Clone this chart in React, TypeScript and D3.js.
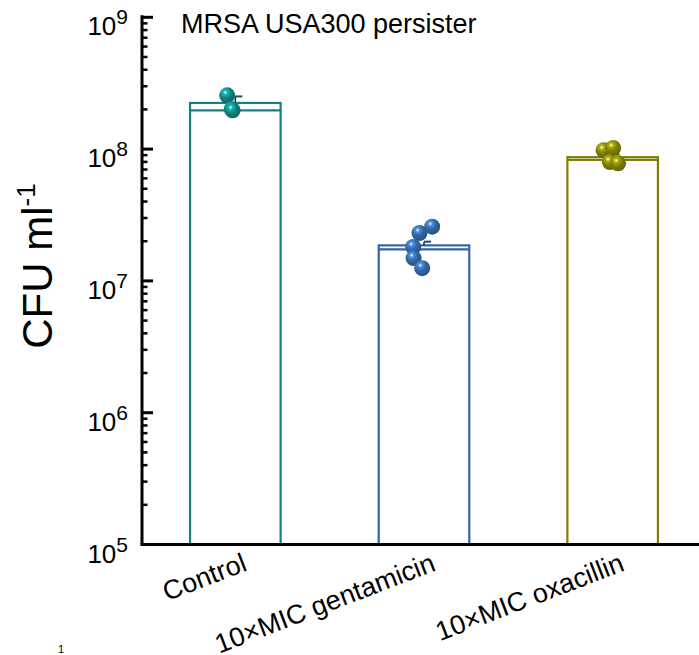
import React from 'react';
import * as d3 from 'd3';

const categories = ['Control', '10×MIC gentamicin', '10×MIC oxacillin'];
const means = [2.24e8, 1.86e7, 8.69e7];
const sds = [0.27e8, 0.125e7, 0.42e7];
const colors = ['#10837d', '#3465a0', '#7f7f08'];
// replicate CFU counts per group, with a small horizontal jitter (fraction of bar width)
const replicates = [
  [2.56e8, 2.01e8, 1.97e8],
  [2.58e7, 2.31e7, 1.81e7, 1.49e7, 1.25e7],
  [9.8e7, 1.02e8, 7.98e7, 7.8e7],
];
const jitter = [
  [-0.09, -0.04, -0.03],
  [0.09, -0.05, -0.12, -0.115, -0.02],
  [-0.1, 0.005, -0.03, 0.06],
];
const yDomain = [1e5, 1e9];

const W = 699;
const H = 655;
const font = '"Liberation Sans", Arial, sans-serif';

export default function App() {
  const x = d3.scaleBand().domain(categories).range([142, 708]).padding(0);
  const y = d3.scaleLog().domain(yDomain).range([544.5, 17.3]);
  const barW = x.bandwidth() * 0.48;
  const cx = (c: string) => (x(c) as number) + x.bandwidth() / 2 - 1;

  const ticks = y.ticks();
  const isMajor = (t: number) => Math.abs(Math.log10(t) - Math.round(Math.log10(t))) < 1e-9;

  return (
    <svg width={W} height={H} style={{ position: 'absolute', left: 0, top: 0 }} fontFamily={font}>
      <defs>
        {colors.map((c, i) => (
          <radialGradient key={i} id={`ball${i}`} cx="38%" cy="32%" r="70%">
            <stop offset="0%" stopColor="#ffffff" />
            <stop offset="18%" stopColor={d3.color(c)!.brighter(1).formatHex()} />
            <stop offset="50%" stopColor={c} />
            <stop offset="100%" stopColor={d3.color(c)!.darker(0.7).formatHex()} />
          </radialGradient>
        ))}
      </defs>

      <text x={181} y={33} fontSize={27}>MRSA USA300 persister</text>

      {categories.map((c, i) => {
        const mid = cx(c);
        const top = y(means[i]);
        const lo = y(means[i] - sds[i]);
        const hi = y(means[i] + sds[i]);
        return (
          <g key={c}>
            <rect x={mid - barW / 2} y={top} width={barW} height={y(yDomain[0]) - top}
              fill="none" stroke={colors[i]} strokeWidth={2.2} />
            <line x1={mid - barW / 2} x2={mid + barW / 2} y1={lo} y2={lo} stroke={colors[i]} strokeWidth={2.2} />
            <line x1={mid} x2={mid} y1={top} y2={hi} stroke="#222" strokeWidth={1.5} />
            <line x1={mid} x2={mid + 7} y1={hi} y2={hi} stroke={d3.color(colors[i])!.darker(1).formatHex()} strokeWidth={2} />
            {replicates[i].map((v, j) => (
              <circle key={j} cx={mid + jitter[i][j] * barW} cy={y(v)} r={8} fill={`url(#ball${i})`} />
            ))}
          </g>
        );
      })}

      {/* y axis */}
      <line x1={142} x2={142} y1={y(yDomain[1]) - 2} y2={y(yDomain[0])} stroke="#000" strokeWidth={3} />
      <line x1={140.5} x2={W} y1={y(yDomain[0])} y2={y(yDomain[0])} stroke="#000" strokeWidth={3} />
      {ticks.map((t, i) => (
        <line key={i} x1={142} x2={isMajor(t) ? 153 : 147.5} y1={y(t)} y2={y(t)} stroke="#000"
          strokeWidth={isMajor(t) ? 3 : 2.5} />
      ))}
      {ticks.filter(isMajor).map((t) => (
        <text key={t} x={128} y={y(t) + 18} fontSize={26} textAnchor="end">
          10
          <tspan fontSize={21} dy={-11}>{Math.round(Math.log10(t))}</tspan>
        </text>
      ))}

      <text transform="translate(52,266) rotate(-90)" fontSize={42} textAnchor="middle">
        CFU ml
        <tspan fontSize={26} dy={-17}>-1</tspan>
      </text>

      {categories.map((c) => (
        <text key={c} transform={`translate(${cx(c) + 13},570) rotate(-21)`} fontSize={27} textAnchor="end">
          {c}
        </text>
      ))}

      <text x={58} y={653} fontSize={11}>1</text>
    </svg>
  );
}
